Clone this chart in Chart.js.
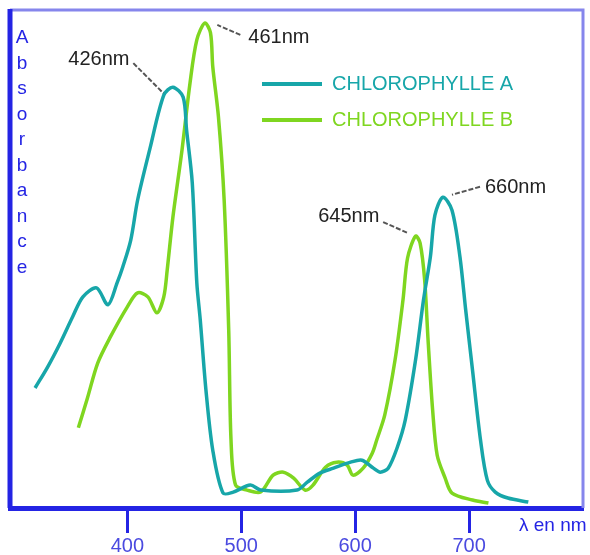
<!DOCTYPE html>
<html>
<head>
<meta charset="utf-8">
<script src="https://cdn.jsdelivr.net/npm/chart.js@4"></script>
<style>
  html, body { margin: 0; padding: 0; background: #fff; }
  #chart { display: block; }
</style>
</head>
<body>
<canvas id="chart" width="590" height="555"></canvas>
<script>
const seriesNames = ['CHLOROPHYLLE A', 'CHLOROPHYLLE B'];

const wavelengthsA = [319, 330, 341, 352, 361, 373, 383, 391, 396, 403, 409, 420, 432, 440, 449, 452, 457, 461, 464, 469, 475, 484, 493, 508, 517, 549, 558, 569, 581, 596, 606, 616, 622, 629, 637, 644, 653, 660, 666, 670, 677, 685, 692, 697, 703, 710, 716, 723, 734, 752];
const absorbanceA = [24.1, 28.3, 33.1, 38.4, 42.4, 44.2, 40.8, 45.2, 48.4, 53.8, 61.8, 72.3, 82.9, 84.5, 82.5, 75.9, 65.3, 45.2, 37.8, 23.7, 11.6, 3.0, 3.2, 4.6, 3.6, 3.6, 5.2, 7.0, 8.0, 9.2, 9.6, 8.0, 7.2, 8.0, 12.2, 17.7, 29.7, 41.8, 50.4, 58.8, 62.4, 59.8, 50.4, 39.8, 27.7, 13.7, 5.6, 3.2, 2.0, 1.2];

const wavelengthsB = [357, 365, 374, 385, 400, 409, 418, 426, 432, 435, 440, 448, 455, 461, 468, 473, 475, 480, 485, 489, 491, 495, 505, 517, 528, 537, 546, 556, 563, 574, 584, 593, 598, 607, 615, 619, 626, 635, 642, 646, 653, 657, 661, 664, 668, 672, 679, 685, 703, 717];
const absorbanceB = [16.1, 22.1, 29.1, 34.3, 40.4, 43.2, 42.4, 39.2, 42.4, 47.8, 58.4, 71.9, 85.3, 94.0, 97.4, 95.4, 88.6, 78.5, 61.8, 35.7, 13.7, 4.6, 3.6, 3.2, 6.6, 7.2, 6.0, 3.6, 4.6, 8.2, 9.2, 8.6, 6.6, 8.0, 11.0, 13.7, 18.7, 29.7, 41.8, 50.2, 54.6, 53.2, 45.8, 33.7, 19.7, 10.6, 6.0, 3.0, 1.6, 1.0];

const xTicks = [400, 500, 600, 700];
const yTitle = 'Absorbance';
const xTitle = 'λ en nm';

// peak callouts: label and the curve point the leader line touches
const peakLabels = ['426nm', '461nm', '645nm', '660nm'];
const peakWavelengths = [431.6, 479, 646.5, 685];
const peakValues = [83.3, 97.0, 55.2, 62.9];

const teal = '#17a6a9';
const green = '#7fd620';
const blue = '#2424e4';
const lightBlue = '#8686ec';

// pixel offsets of leader start and text, relative to the anchor
const calloutLayout = [
	{ lx: -30, ly: -30, tx: -95, ty: -28 },
	{ lx: 23, ly: 10, tx: 31, ty: 18 },
	{ lx: -25, ly: -11, tx: -90, ty: -11 },
	{ lx: 28, ly: -8, tx: 33, ty: -2 },
];

const toPoints = (xs, ys) => xs.map((x, i) => ({ x: x, y: ys[i] }));

const framePlugin = {
	id: 'frame',
	beforeDatasetsDraw(chart) {
		const { ctx, chartArea: a } = chart;
		ctx.save();
		ctx.strokeStyle = lightBlue;
		ctx.lineWidth = 3;
		ctx.beginPath();
		ctx.moveTo(a.left, a.top);
		ctx.lineTo(a.right, a.top);
		ctx.lineTo(a.right, a.bottom);
		ctx.stroke();
		ctx.strokeStyle = blue;
		ctx.lineWidth = 5;
		ctx.beginPath();
		ctx.moveTo(a.left, a.top - 1);
		ctx.lineTo(a.left, a.bottom);
		ctx.stroke();
		ctx.restore();
	},
	afterDraw(chart) {
		const { ctx, chartArea: a, scales } = chart;
		ctx.save();
		ctx.font = '20px "Liberation Sans", Arial, sans-serif';
		ctx.textBaseline = 'alphabetic';

		// stacked y title
		ctx.fillStyle = blue;
		ctx.textAlign = 'center';
		ctx.font = '19px "Liberation Sans", Arial, sans-serif';
		yTitle.split('').forEach((ch, i) => {
			ctx.fillText(ch, a.left + 12, 43 + i * 25.5);
		});

		// x title
		ctx.textAlign = 'left';
		ctx.fillText(xTitle, a.right - 64, a.bottom + 23);

		// legend
		const colors = [teal, green];
		ctx.font = '20px "Liberation Sans", Arial, sans-serif';
		seriesNames.forEach((name, i) => {
			const y = 84 + i * 36;
			ctx.strokeStyle = colors[i];
			ctx.lineWidth = 4;
			ctx.beginPath();
			ctx.moveTo(262, y);
			ctx.lineTo(322, y);
			ctx.stroke();
			ctx.fillStyle = colors[i];
			ctx.fillText(name, 332, y + 6);
		});

		// peak callouts
		peakLabels.forEach((label, i) => {
			const px = scales.x.getPixelForValue(peakWavelengths[i]);
			const py = scales.y.getPixelForValue(peakValues[i]);
			const c = calloutLayout[i];
			ctx.strokeStyle = '#555';
			ctx.lineWidth = 2;
			ctx.setLineDash([5, 2]);
			ctx.beginPath();
			ctx.moveTo(px + c.lx, py + c.ly);
			ctx.lineTo(px, py);
			ctx.stroke();
			ctx.setLineDash([]);
			ctx.fillStyle = '#222';
			ctx.fillText(label, px + c.tx, py + c.ty);
		});
		ctx.restore();
	},
};

const config = {
	type: 'line',
	data: {
		datasets: [
			{
				label: seriesNames[0],
				data: toPoints(wavelengthsA, absorbanceA),
				borderColor: teal,
				borderWidth: 3.5,
				pointRadius: 0,
				tension: 0.3,
			},
			{
				label: seriesNames[1],
				data: toPoints(wavelengthsB, absorbanceB),
				borderColor: green,
				borderWidth: 3.5,
				pointRadius: 0,
				tension: 0.3,
			},
		],
	},
	options: {
		responsive: false,
		animation: false,
		layout: { padding: { left: 10, top: 10, right: 7, bottom: 0 } },
		plugins: { legend: { display: false }, tooltip: { enabled: false } },
		scales: {
			x: {
				type: 'linear',
				min: 297,
				max: 800,
				afterBuildTicks: (scale) => {
					scale.ticks = xTicks.map((v) => ({ value: v }));
				},
				afterFit: (scale) => {
					scale.height = 47;
				},
				border: { color: blue, width: 5 },
				grid: {
					drawOnChartArea: false,
					drawTicks: true,
					tickLength: 25,
					tickColor: blue,
					tickWidth: 3,
				},
				ticks: {
					color: '#4a4ae0',
					padding: 1,
					maxRotation: 0,
					font: { family: '"Liberation Sans", Arial, sans-serif', size: 20 },
				},
			},
			y: {
				display: false,
				min: 0,
				max: 100,
			},
		},
	},
	plugins: [framePlugin],
};

new Chart(document.getElementById('chart'), config);
</script>
</body>
</html>
